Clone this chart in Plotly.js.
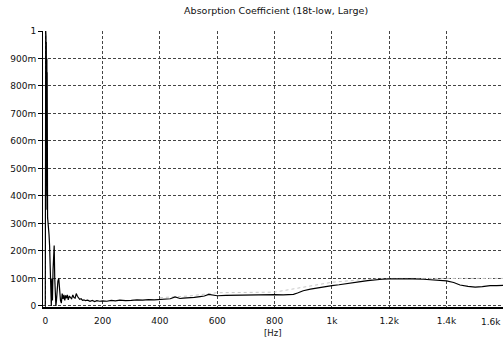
<!DOCTYPE html>
<html>
<head>
<meta charset="utf-8">
<script src="https://cdn.plot.ly/plotly-3.0.1.min.js"></script>
<style>html,body{margin:0;padding:0;background:#fff;}#chart{width:503px;height:340px;}</style>
</head>
<body>
<div id="chart"></div>
<script>
// Main series: frequency (Hz) and absorption coefficient
var freq = [0, 0.5, 1, 1.5, 2, 2.5, 3, 3.5, 4, 4.5, 5, 5.5, 6, 6.5, 7, 7.5, 8, 9, 10, 11, 13, 15, 17, 19, 21, 23, 25, 27, 29, 31, 33, 35, 37, 39, 41, 44, 47, 50, 53, 56, 59, 62, 65, 68, 71, 74, 77, 80, 84, 88, 92, 96, 100, 104, 108, 112, 116, 120, 125, 130, 135, 140, 148, 156, 164, 172, 180, 190, 200, 215, 230, 245, 260, 280, 300, 320, 340, 360, 380, 400, 420, 436, 453, 470, 481, 500, 520, 540, 555, 570, 585, 600, 630, 668, 700, 738, 770, 800, 830, 866, 880, 900, 925, 950, 975, 1000, 1025, 1050, 1075, 1100, 1125, 1150, 1175, 1200, 1240, 1283, 1320, 1343, 1370, 1400, 1425, 1447, 1475, 1500, 1525, 1552, 1575, 1600];
var absorb = [0, 1.0, 0.4, 1.0, 0.5, 0.98, 0.45, 0.96, 0.5, 0.95, 0.4, 0.9, 0.35, 0.85, 0.33, 0.6, 0.32, 0.31, 0.3, 0.29, 0.26, 0.22, 0.12, 0.03, 0.0, 0.1, 0.02, 0.13, 0.2, 0.22, 0.1, 0.03, 0.0, 0.02, 0.06, 0.09, 0.1, 0.05, 0.02, 0.01, 0.045, 0.025, 0.04, 0.02, 0.038, 0.028, 0.04, 0.022, 0.036, 0.03, 0.026, 0.04, 0.03, 0.028, 0.045, 0.035, 0.03, 0.024, 0.026, 0.02, 0.022, 0.019, 0.021, 0.017, 0.02, 0.016, 0.019, 0.017, 0.018, 0.017, 0.02, 0.018, 0.021, 0.019, 0.02, 0.022, 0.021, 0.023, 0.022, 0.024, 0.025, 0.026, 0.033, 0.027, 0.028, 0.029, 0.031, 0.034, 0.036, 0.042, 0.04, 0.037, 0.038, 0.039, 0.039, 0.041, 0.04, 0.041, 0.04, 0.042, 0.047, 0.055, 0.061, 0.066, 0.07, 0.074, 0.077, 0.08, 0.084, 0.088, 0.092, 0.095, 0.097, 0.098, 0.099, 0.098, 0.097, 0.095, 0.093, 0.091, 0.085, 0.076, 0.071, 0.068, 0.07, 0.074, 0.074, 0.075];
// Faint secondary series
var freq2 = [400, 500, 600, 700, 800, 900, 1000, 1100, 1200, 1300, 1400, 1500, 1600];
var absorb2 = [0.03, 0.036, 0.048, 0.048, 0.05, 0.068, 0.086, 0.095, 0.1, 0.1, 0.1, 0.1, 0.1];
// Tick labels
var xTickVals = [0, 200, 400, 600, 800, 1000, 1200, 1400];
var xTickText = ['0', '200', '400', '600', '800', '1k', '1.2k', '1.4k'];
var yTickVals = [0, 0.1, 0.2, 0.3, 0.4, 0.5, 0.6, 0.7, 0.8, 0.9, 1.0];
var yTickText = ['0', '100m', '200m', '300m', '400m', '500m', '600m', '700m', '800m', '900m', '1'];

var traces = [
  {x: freq2, y: absorb2, type: 'scatter', mode: 'lines', line: {color: '#c8c8c8', width: 1, dash: 'dot'}, hoverinfo: 'skip'},
  {x: freq, y: absorb, type: 'scatter', mode: 'lines', line: {color: '#000', width: 1.2}}
];
var fnt = {family: 'DejaVu Sans, Verdana, sans-serif', size: 9, color: '#111'};
var layout = {
  width: 503, height: 340,
  margin: {l: 43, r: 0, t: 31, b: 33, pad: 0},
  paper_bgcolor: '#fff', plot_bgcolor: '#fff',
  showlegend: false,
  font: fnt,
  title: {text: 'Absorption Coefficient (18t-low, Large)', font: {family: 'DejaVu Sans, sans-serif', size: 9.5, color: '#111'}, x: 0.549, xanchor: 'center', y: 0.97, yanchor: 'middle'},
  xaxis: {
    range: [-8, 1597], tickvals: xTickVals, ticktext: xTickText,
    showgrid: true, gridcolor: '#444', griddash: '3px,2px', gridwidth: 1,
    zeroline: false, showline: true, linecolor: '#000', linewidth: 2,
    ticks: '', ticklabelstandoff: 4, tickfont: fnt
  },
  yaxis: {
    range: [-0.004, 1.0], tickvals: yTickVals, ticktext: yTickText,
    showgrid: true, gridcolor: '#444', griddash: '3px,2px', gridwidth: 1,
    zeroline: false, showline: true, linecolor: '#000', linewidth: 1,
    ticks: 'outside', ticklen: 4, tickcolor: '#000', tickfont: fnt
  },
  annotations: [
    {text: '1.6k', xref: 'paper', yref: 'paper', x: 1, y: 0, xanchor: 'right', yanchor: 'middle', yshift: -15, showarrow: false, font: fnt},
    {text: '[Hz]', xref: 'paper', yref: 'paper', x: 0.5, y: 0, xanchor: 'center', yanchor: 'middle', yshift: -26, showarrow: false, font: {family: 'DejaVu Sans, sans-serif', size: 8.5, color: '#111'}}
  ]
};
Plotly.newPlot('chart', traces, layout, {displayModeBar: false, staticPlot: true});
</script>
</body>
</html>
